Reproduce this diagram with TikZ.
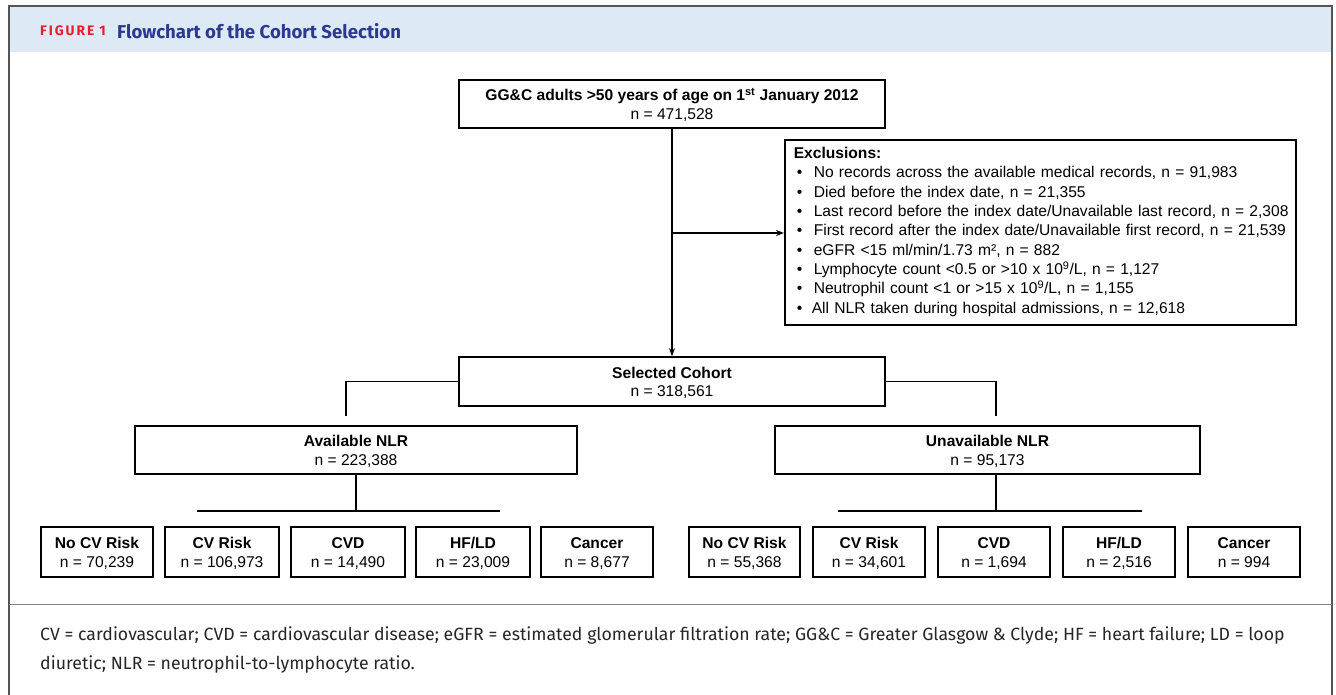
\documentclass[tikz,border=0pt]{standalone}
\usepackage{fontspec}
\setmainfont{Liberation Sans}
\newfontfamily\fira{Fira Sans}
\usetikzlibrary{arrows.meta}
\definecolor{bandblue}{HTML}{DDE9F5}
\definecolor{titleblue}{HTML}{2B3990}
\definecolor{figred}{HTML}{E2202C}
\definecolor{framegray}{HTML}{555555}
\newcommand{\bul}{\makebox[20pt][l]{\hspace{3pt}\textbullet}}
\newcommand{\bulb}{\makebox[18pt][l]{\hspace{3pt}\textbullet}}
\newcommand{\twol}[2]{\raisebox{-2.5pt}[\height][\depth]{\begin{tabular}{@{}c@{}}\textbf{#1}\\#2\end{tabular}}}
\tikzset{
  box/.style={draw=black, line width=1.6pt, align=center, inner sep=0pt, font=\fontsize{15.6}{18.5}\selectfont},
  smallbox/.style={box, minimum width=112pt, minimum height=50pt},
  conn/.style={draw=black, line width=1.3pt},
  arr/.style={conn, -{Stealth[length=8pt,width=6pt]}}
}
\begin{document}
\begin{tikzpicture}[x=1pt,y=-1pt]
\useasboundingbox (0,0) rectangle (1336,694);
% frame
\fill[bandblue] (9,6) rectangle (1332,52);
\draw[framegray, line width=1.2pt] (9,700) -- (9,6) -- (1332,6) -- (1332,700);
\draw[gray, line width=1pt] (9,604) -- (1332,604);
\node[anchor=west, inner sep=0pt, text=figred, font=\fira\bfseries\fontsize{13.8}{15}\selectfont\addfontfeatures{LetterSpace=14}] (figlbl) at (40,31) {FIGURE 1};
\node[anchor=west, inner sep=0pt, text=titleblue, font=\fira\bfseries\fontsize{18.6}{20}\selectfont] (figtitle) at (117,31) {Flowchart of the Cohort Selection};

% main boxes
\node[box, minimum width=426pt, minimum height=48pt] (top) at (672,104)
  {\twol{GG\&C adults >50 years of age on 1\textsuperscript{st} January 2012}{n = 471,528}};
\node[box, anchor=north west, minimum width=511pt, minimum height=185pt, align=left, inner sep=0pt, text width=505pt] (excl) at (784,139)
  {\hspace{6pt}\parbox[t]{500pt}{\fontsize{15.6}{19.3}\selectfont\vspace{-1pt}
   \textbf{Exclusions:}\\
   \bul No records across the available medical records, n = 91,983\\
   \bul Died before the index date, n = 21,355\\
   \bul Last record before the index date/Unavailable last record, n = 2,308\\
   \bul First record after the index date/Unavailable first record, n = 21,539\\
   \bul eGFR <15 ml/min/1.73 m², n = 882\\
   \bul Lymphocyte count <0.5 or >10 x 10\textsuperscript{9}/L, n = 1,127\\
   \bul Neutrophil count <1 or >15 x 10\textsuperscript{9}/L, n = 1,155\\
   \bulb All NLR taken during hospital admissions, n = 12,618}};
\node[box, minimum width=426pt, minimum height=49pt] (sel) at (672,381.5)
  {\twol{Selected Cohort}{n = 318,561}};
\node[box, minimum width=442pt, minimum height=48pt] (avail) at (356,450)
  {\twol{Available NLR}{n = 223,388}};
\node[box, minimum width=425pt, minimum height=48pt] (unavail) at (987.5,450)
  {\twol{Unavailable NLR}{n = 95,173}};

% small boxes left
\node[smallbox] (a1) at (97,552) {\twol{No CV Risk}{n = 70,239}};
\node[smallbox, minimum width=114pt] (a2) at (222,552) {\twol{CV Risk}{n = 106,973}};
\node[smallbox, minimum width=114pt] (a3) at (348,552) {\twol{CVD}{n = 14,490}};
\node[smallbox, minimum width=114pt] (a4) at (473,552) {\twol{HF/LD}{n = 23,009}};
\node[smallbox] (a5) at (597,552) {\twol{Cancer}{n = 8,677}};
% small boxes right
\node[smallbox, minimum width=111pt] (b1) at (744.5,552) {\twol{No CV Risk}{n = 55,368}};
\node[smallbox] (b2) at (869,552) {\twol{CV Risk}{n = 34,601}};
\node[smallbox] (b3) at (994,552) {\twol{CVD}{n = 1,694}};
\node[smallbox] (b4) at (1119,552) {\twol{HF/LD}{n = 2,516}};
\node[smallbox] (b5) at (1244,552) {\twol{Cancer}{n = 994}};

% connectors
\draw[arr] (top.south) -- (sel.north);
\coordinate (br) at (672,233);
\draw[arr] (br) -- (br -| excl.west);
\coordinate (la) at (346,416);
\coordinate (ra) at (996,416);
\draw[conn] (sel.west) -| (la);
\draw[conn] (sel.east) -| (ra);
\coordinate (lj) at (356,511);
\coordinate (rj) at (996,511);
\coordinate (lh1) at (197,511);
\coordinate (lh2) at (500,511);
\coordinate (rh1) at (838,511);
\coordinate (rh2) at (1142,511);
\draw[conn] (avail.south) -- (lj);
\draw[conn] (lh1) -- (lh2);
\draw[conn] (unavail.south -| rj) -- (rj);
\draw[conn] (rh1) -- (rh2);

% caption
\node[anchor=west, inner sep=0pt, align=left, font=\fira\fontsize{17.7}{29}\selectfont, text=black!85] (cap) at (40,650)
  {CV = cardiovascular; CVD = cardiovascular disease; eGFR = estimated glomerular filtration rate; GG\&C = Greater Glasgow \& Clyde; HF = heart failure; LD = loop\\
   diuretic; NLR = neutrophil-to-lymphocyte ratio.};
\end{tikzpicture}
\end{document}
